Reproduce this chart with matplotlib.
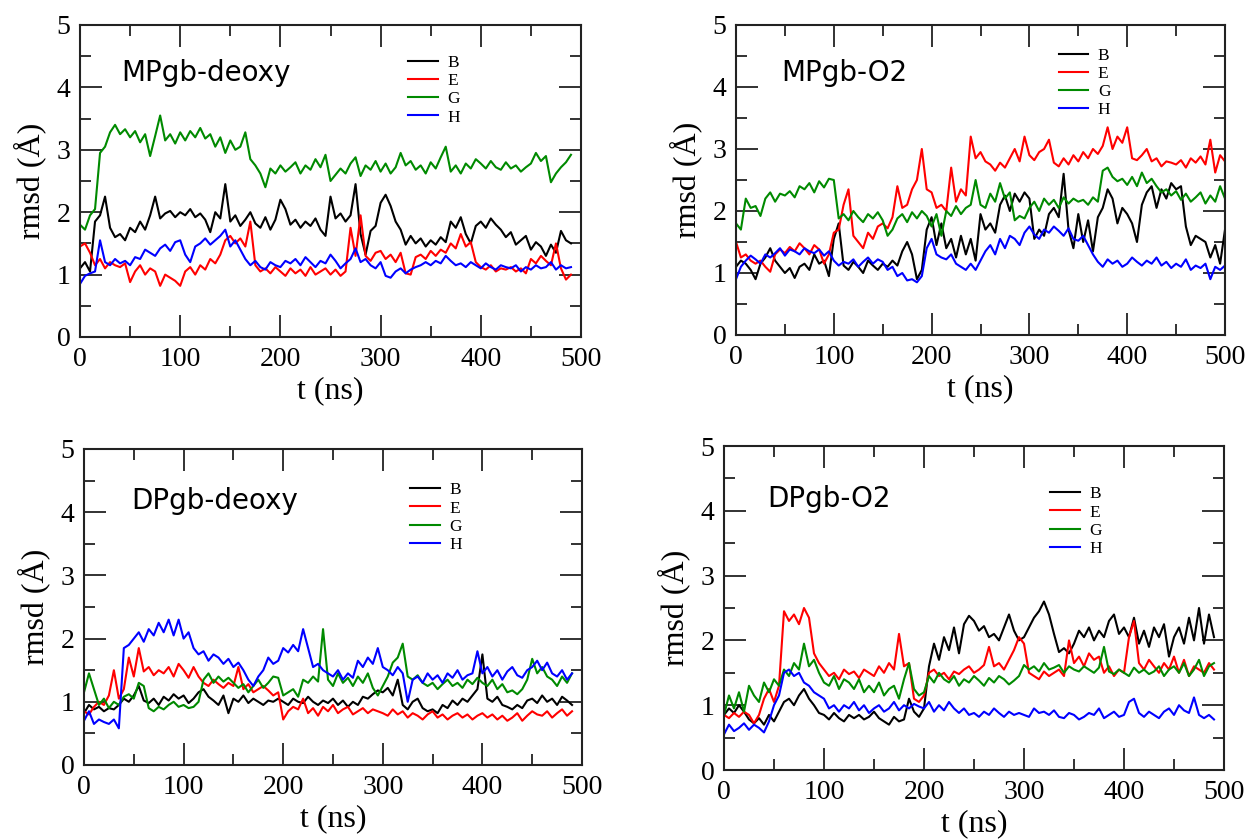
import numpy as np
import matplotlib
matplotlib.use("Agg")
import matplotlib.pyplot as plt
from matplotlib.ticker import MultipleLocator

# ---------------- data (rmsd in Angstrom, sampled every 5 ns) ----------------
step_ns = 5
labels = ["B", "E", "G", "H"]
titles = ["MPgb-deoxy", "MPgb-O2", "DPgb-deoxy", "DPgb-O2"]

# Panel 1: MPgb-deoxy
p1_B = [1.10, 1.20, 1.05, 1.85, 1.95, 2.25, 1.75, 1.60, 1.65, 1.55,
        1.75, 1.68, 1.85, 1.72, 1.95, 2.25, 1.90, 1.98, 2.02, 1.92,
        2.00, 1.95, 2.05, 1.92, 1.98, 1.88, 1.68, 2.00, 1.90, 2.45,
        1.85, 1.95, 1.78, 1.88, 2.00, 1.82, 1.75, 1.92, 1.72, 1.88,
        2.20, 2.05, 1.80, 1.88, 1.75, 1.85, 1.78, 1.90, 1.72, 1.62,
        2.25, 1.90, 1.98, 1.85, 1.95, 2.45, 1.65, 1.32, 1.70, 1.78,
        2.15, 2.28, 2.10, 1.85, 1.72, 1.48, 1.62, 1.50, 1.58, 1.45,
        1.55, 1.48, 1.60, 1.52, 1.85, 1.75, 1.92, 1.65, 1.50, 1.78,
        1.85, 1.75, 1.90, 1.80, 1.72, 1.60, 1.68, 1.48, 1.55, 1.62,
        1.40, 1.52, 1.45, 1.30, 1.48, 1.35, 1.70, 1.55, 1.50]
p1_E = [1.45, 1.50, 1.35, 1.15, 1.25, 1.10, 1.20, 1.15, 1.12, 1.18,
        0.88, 1.05, 1.15, 1.00, 1.10, 1.05, 0.82, 1.00, 0.95, 0.90,
        0.82, 1.05, 1.12, 1.00, 1.15, 1.08, 1.25, 1.18, 1.32, 1.55,
        1.62, 1.50, 1.58, 1.45, 1.85, 1.15, 1.05, 1.10, 1.02, 1.12,
        1.05, 0.98, 1.10, 1.02, 1.08, 0.98, 1.12, 1.00, 1.05, 1.10,
        1.00, 1.08, 0.98, 1.05, 1.75, 1.30, 1.95, 1.30, 1.22, 1.35,
        1.38, 1.25, 1.32, 1.20, 1.35, 1.02, 1.00, 1.28, 1.32, 1.25,
        1.38, 1.30, 1.40, 1.35, 1.50, 1.42, 1.65, 1.45, 1.52, 1.20,
        1.12, 1.08, 1.15, 1.05, 1.10, 1.08, 1.12, 1.05, 1.10, 1.02,
        1.25, 1.18, 1.30, 1.22, 1.15, 1.50, 1.10, 0.92, 1.00]
p1_G = [1.80, 1.72, 1.95, 2.05, 2.95, 3.05, 3.28, 3.40, 3.25, 3.33,
        3.20, 3.30, 3.12, 3.25, 2.90, 3.22, 3.55, 3.15, 3.25, 3.10,
        3.28, 3.15, 3.30, 3.20, 3.35, 3.18, 3.25, 3.05, 3.20, 2.95,
        3.15, 3.00, 3.05, 3.28, 2.85, 2.75, 2.62, 2.40, 2.70, 2.62,
        2.75, 2.65, 2.72, 2.80, 2.62, 2.75, 2.68, 2.85, 2.72, 2.92,
        2.50, 2.60, 2.70, 2.62, 2.78, 2.88, 2.58, 2.75, 2.68, 2.82,
        2.65, 2.78, 2.62, 2.72, 2.95, 2.75, 2.82, 2.68, 2.75, 2.62,
        2.80, 2.70, 2.88, 3.05, 2.65, 2.75, 2.62, 2.78, 2.70, 2.85,
        2.78, 2.70, 2.82, 2.72, 2.68, 2.80, 2.70, 2.75, 2.65, 2.72,
        2.78, 2.95, 2.82, 2.90, 2.48, 2.62, 2.72, 2.80, 2.92]
p1_H = [0.85, 0.98, 1.02, 1.05, 1.55, 1.20, 1.15, 1.25, 1.18, 1.22,
        1.15, 1.28, 1.25, 1.40, 1.35, 1.30, 1.42, 1.48, 1.38, 1.52,
        1.55, 1.32, 1.20, 1.45, 1.50, 1.58, 1.48, 1.55, 1.62, 1.72,
        1.45, 1.55, 1.40, 1.25, 1.15, 1.22, 1.12, 1.08, 1.20, 1.15,
        1.12, 1.22, 1.18, 1.25, 1.15, 1.28, 1.20, 1.12, 1.22, 1.18,
        1.32, 1.22, 1.10, 1.18, 1.25, 1.42, 1.20, 1.25, 1.15, 1.10,
        1.20, 0.98, 0.95, 1.05, 1.10, 1.02, 1.08, 1.12, 1.15, 1.20,
        1.15, 1.22, 1.18, 1.30, 1.22, 1.15, 1.18, 1.12, 1.20, 1.15,
        1.10, 1.18, 1.12, 1.08, 1.15, 1.12, 1.10, 1.15, 1.05, 1.12,
        1.08, 1.15, 1.10, 1.12, 1.20, 1.08, 1.15, 1.10, 1.12]

# Panel 2: MPgb-O2
p2_B = [1.10, 1.20, 1.15, 1.05, 0.90, 1.15, 1.25, 1.40, 1.20, 1.10,
        1.00, 1.08, 0.92, 1.10, 1.15, 1.05, 1.30, 1.15, 1.20, 0.95,
        1.55, 1.80, 1.12, 1.05, 1.18, 1.10, 1.00, 1.20, 1.12, 1.05,
        1.15, 1.10, 1.20, 1.12, 1.35, 1.50, 1.30, 0.90, 1.05, 1.70,
        1.90, 1.45, 1.80, 1.40, 1.55, 1.25, 1.60, 1.30, 1.55, 1.20,
        1.95, 1.70, 1.80, 1.65, 2.10, 2.25, 2.00, 2.28, 2.15, 2.30,
        2.20, 1.55, 1.70, 1.60, 1.95, 2.05, 1.90, 2.60, 1.70, 1.40,
        1.95, 1.50, 1.85, 1.35, 1.90, 2.05, 2.35, 2.20, 1.80, 2.05,
        1.95, 1.80, 1.50, 2.10, 2.30, 2.40, 2.05, 2.35, 2.20, 2.45,
        2.35, 2.40, 1.75, 1.45, 1.60, 1.55, 1.50, 1.25, 1.45, 1.15,
        1.70]
p2_E = [1.50, 1.25, 1.30, 1.20, 1.15, 1.20, 1.10, 1.02, 1.30, 1.38,
        1.32, 1.42, 1.35, 1.48, 1.40, 1.30, 1.45, 1.38, 1.15, 1.30,
        1.65, 1.70, 2.10, 2.35, 1.60, 1.50, 1.40, 1.65, 1.55, 1.75,
        1.80, 1.72, 1.90, 2.40, 2.05, 2.10, 2.35, 2.50, 3.00, 2.35,
        2.30, 2.05, 2.10, 2.00, 2.70, 2.15, 2.35, 2.25, 3.20, 2.85,
        2.95, 2.80, 2.75, 2.65, 2.78, 2.70, 2.85, 3.00, 2.80, 3.20,
        2.90, 2.82, 2.95, 3.00, 3.15, 2.78, 2.72, 2.85, 2.75, 2.90,
        2.80, 2.95, 2.85, 3.00, 2.92, 3.05, 3.35, 3.00, 3.20, 3.10,
        3.35, 2.85, 2.82, 2.90, 3.00, 2.80, 2.85, 2.72, 2.80, 2.78,
        2.75, 2.82, 2.70, 2.85, 2.78, 2.88, 2.75, 3.15, 2.62, 2.90,
        2.80]
p2_G = [1.80, 1.70, 2.20, 2.05, 2.08, 1.92, 2.20, 2.30, 2.15, 2.28,
        2.25, 2.32, 2.22, 2.40, 2.35, 2.45, 2.30, 2.48, 2.38, 2.52,
        2.50, 1.88, 1.95, 1.85, 2.00, 1.90, 1.82, 1.95, 1.88, 1.98,
        1.85, 1.60, 1.70, 1.88, 1.95, 1.82, 1.98, 1.88, 2.00, 1.92,
        1.75, 1.95, 1.60, 2.00, 1.92, 2.08, 1.95, 2.05, 2.10, 2.50,
        2.10, 2.05, 2.28, 2.15, 2.45, 2.20, 2.30, 1.85, 1.92, 1.88,
        2.05, 2.15, 2.00, 2.20, 2.10, 2.18, 2.05, 2.22, 2.12, 2.20,
        2.15, 2.18, 2.10, 2.22, 2.15, 2.65, 2.70, 2.55, 2.48, 2.52,
        2.42, 2.55, 2.40, 2.62, 2.45, 2.52, 2.40, 2.30, 2.35, 2.25,
        2.32, 2.18, 2.28, 2.15, 2.22, 2.30, 2.12, 2.25, 2.15, 2.40,
        2.20]
p2_H = [0.90, 1.10, 1.20, 1.28, 1.22, 1.15, 1.30, 1.25, 1.32, 1.40,
        1.28, 1.38, 1.35, 1.30, 1.40, 1.35, 1.32, 1.38, 1.28, 1.35,
        1.20, 1.12, 1.18, 1.15, 1.22, 1.10, 1.18, 1.25, 1.15, 1.22,
        1.18, 1.05, 1.10, 0.95, 1.00, 0.88, 0.90, 0.85, 0.95, 1.40,
        1.55, 1.30, 1.25, 1.22, 1.30, 1.15, 1.10, 1.05, 1.15, 1.05,
        1.20, 1.35, 1.45, 1.30, 1.55, 1.40, 1.60, 1.55, 1.45, 1.65,
        1.75, 1.62, 1.55, 1.70, 1.65, 1.75, 1.68, 1.60, 1.72, 1.55,
        1.52, 1.60, 1.45, 1.30, 1.18, 1.10, 1.22, 1.15, 1.20, 1.10,
        1.15, 1.25, 1.18, 1.12, 1.20, 1.15, 1.25, 1.12, 1.18, 1.08,
        1.15, 1.10, 1.22, 1.05, 1.12, 1.08, 1.15, 0.90, 1.10, 1.05,
        1.12]

# Panel 3: DPgb-deoxy
p3_B = [0.82, 0.95, 0.88, 0.92, 0.85, 0.90, 0.88, 0.95, 1.05, 1.00,
        1.10, 1.25, 1.02, 0.98, 1.05, 0.95, 1.08, 1.02, 1.12, 1.05,
        1.10, 0.98, 1.05, 1.15, 1.20, 1.08, 1.02, 0.95, 1.10, 0.82,
        1.05, 1.00, 1.10, 0.98, 1.05, 1.00, 0.95, 1.02, 1.00, 1.05,
        1.00, 0.95, 1.05, 1.00, 0.98, 1.08, 1.00, 0.95, 1.02, 0.98,
        1.05, 0.95, 1.02, 0.92, 1.00, 0.95, 1.08, 1.05, 1.12, 1.18,
        1.15, 1.22, 1.10, 1.35, 0.95, 0.88, 1.00, 1.05, 0.90, 0.85,
        0.88, 0.82, 0.95, 0.90, 1.02, 0.95, 1.05, 1.00, 1.10, 1.20,
        1.75, 1.05, 1.00, 1.08, 0.95, 0.92, 0.88, 0.95, 0.90, 1.02,
        1.05, 0.98, 1.10, 1.00, 1.05, 0.95, 1.08, 1.02, 0.95]
p3_E = [0.85, 0.80, 0.92, 1.00, 0.95, 1.10, 1.50, 1.05, 1.20, 1.70,
        1.40, 1.85, 1.48, 1.55, 1.42, 1.50, 1.45, 1.55, 1.40, 1.60,
        1.50, 1.38, 1.55, 1.40, 1.30, 1.25, 1.35, 1.28, 1.22, 1.30,
        1.25, 1.55, 1.20, 1.28, 1.15, 1.20, 1.25, 1.18, 1.10, 1.15,
        0.72, 0.85, 0.92, 0.88, 1.05, 0.82, 0.90, 0.78, 0.92, 0.85,
        0.95, 0.82, 0.88, 0.92, 0.80, 0.85, 0.90, 0.82, 0.88, 0.85,
        0.82, 0.78, 0.88, 0.80, 0.85, 0.75, 0.82, 0.78, 0.72, 0.80,
        0.85, 0.75, 0.80, 0.72, 0.78, 0.82, 0.75, 0.80, 0.72, 0.78,
        0.82, 0.75, 0.80, 0.72, 0.78, 0.70, 0.75, 0.82, 0.70, 0.78,
        0.85, 0.80, 0.78, 0.85, 0.75, 0.82, 0.88, 0.78, 0.85]
p3_G = [1.15, 1.45, 1.20, 0.95, 1.05, 0.90, 1.00, 0.95, 1.08, 1.12,
        1.05, 1.30, 1.25, 0.90, 0.85, 0.92, 0.88, 0.95, 1.00, 0.92,
        0.95, 0.90, 0.92, 1.00, 1.35, 1.45, 1.30, 1.40, 1.32, 1.38,
        1.30, 1.22, 1.28, 1.15, 1.25, 1.35, 1.22, 1.30, 1.40, 1.38,
        1.10, 1.15, 1.20, 1.08, 1.35, 1.30, 1.40, 1.32, 2.15, 1.35,
        1.25, 1.45, 1.30, 1.38, 1.25, 1.40, 1.30, 1.45, 1.22, 1.10,
        1.25, 1.40, 1.62, 1.70, 1.92, 1.40, 1.35, 1.42, 1.30, 1.25,
        1.30, 1.20, 1.28, 1.35, 1.25, 1.30, 1.22, 1.35, 1.28, 1.38,
        1.30, 1.25, 1.35, 1.20, 1.28, 1.15, 1.18, 1.12, 1.20, 1.35,
        1.68, 1.45, 1.55, 1.40, 1.35, 1.25, 1.40, 1.30, 1.45]
p3_H = [0.70, 0.85, 0.65, 0.72, 0.68, 0.65, 0.72, 0.58, 1.85, 1.90,
        2.00, 2.10, 1.95, 2.15, 2.05, 2.25, 2.10, 2.30, 2.05, 2.30,
        2.00, 2.10, 1.85, 1.75, 1.80, 1.65, 1.75, 1.70, 1.60, 1.68,
        1.55, 1.62, 1.50, 1.35, 1.25, 1.40, 1.50, 1.70, 1.60, 1.65,
        1.85, 1.78, 1.90, 1.80, 2.15, 1.85, 1.55, 1.60, 1.50, 1.45,
        1.40, 1.50, 1.35, 1.45, 1.38, 1.65, 1.55, 1.70, 1.60, 1.85,
        1.55, 1.50, 1.42, 1.55, 1.45, 1.00, 1.35, 1.40, 1.30, 1.45,
        1.35, 1.42, 1.30, 1.45, 1.38, 1.50, 1.35, 1.42, 1.45, 1.80,
        1.45, 1.55, 1.40, 1.50, 1.35, 1.48, 1.55, 1.42, 1.38, 1.50,
        1.55, 1.65, 1.50, 1.62, 1.45, 1.40, 1.50, 1.35, 1.45]

# Panel 4: DPgb-O2
p4_B = [0.85, 0.95, 0.88, 1.00, 0.90, 0.78, 0.72, 0.80, 0.70, 0.85,
        0.75, 0.90, 1.05, 1.10, 1.00, 1.15, 1.25, 1.10, 1.00, 0.88,
        0.85, 0.78, 0.88, 0.80, 0.75, 0.85, 0.80, 0.85, 0.78, 0.82,
        0.90, 0.80, 0.75, 0.70, 0.82, 0.75, 0.78, 1.10, 0.90, 0.82,
        0.95, 1.60, 1.95, 1.70, 2.05, 1.85, 2.20, 1.80, 2.25, 2.38,
        2.30, 2.15, 2.22, 2.05, 2.10, 2.00, 2.20, 2.40, 2.15, 2.00,
        2.05, 2.20, 2.35, 2.45, 2.60, 2.40, 2.10, 1.82, 1.88, 1.80,
        1.95, 2.15, 2.05, 2.20, 2.00, 2.15, 2.05, 2.30, 2.40, 2.10,
        2.20, 2.05, 2.35, 1.95, 2.15, 1.90, 2.20, 2.05, 2.25, 1.75,
        2.05, 2.20, 1.95, 2.35, 2.00, 2.50, 1.95, 2.40, 2.05]
p4_E = [0.85, 0.80, 0.88, 0.82, 0.90, 0.85, 0.72, 0.85, 1.10, 1.25,
        1.05, 1.30, 2.45, 2.30, 2.40, 2.25, 2.50, 2.35, 1.80, 1.65,
        1.55, 1.45, 1.50, 1.40, 1.55, 1.48, 1.52, 1.42, 1.55, 1.50,
        1.45, 1.60, 1.50, 1.65, 1.55, 2.10, 1.60, 1.65, 1.10, 1.05,
        1.15, 1.50, 1.55, 1.45, 1.50, 1.40, 1.52, 1.48, 1.55, 1.60,
        1.50, 1.55, 1.62, 1.90, 1.60, 1.65, 1.55, 1.70, 1.85, 2.05,
        1.95, 1.50, 1.45, 1.40, 1.52, 1.45, 1.50, 1.55, 1.45, 2.00,
        1.65, 1.75, 1.60, 1.80, 1.70, 1.75, 1.50, 1.60, 1.45, 1.55,
        1.50, 2.05, 2.30, 1.65, 1.55, 1.70, 1.60, 1.50, 1.65, 1.55,
        1.75, 1.50, 1.70, 1.45, 1.60, 1.55, 1.50, 1.65, 1.55]
p4_G = [0.85, 1.15, 0.95, 1.20, 0.90, 1.30, 1.15, 1.05, 1.35, 1.20,
        1.40, 1.30, 1.55, 1.45, 1.65, 1.55, 1.95, 1.60, 1.70, 1.50,
        1.35, 1.30, 1.45, 1.25, 1.40, 1.35, 1.25, 1.40, 1.20, 1.30,
        1.20, 1.35, 1.15, 1.25, 1.30, 1.10, 1.40, 1.65, 1.25, 1.15,
        1.20, 1.45, 1.35, 1.50, 1.40, 1.35, 1.45, 1.30, 1.40, 1.35,
        1.45, 1.38, 1.30, 1.42, 1.35, 1.45, 1.40, 1.32, 1.38, 1.45,
        1.62, 1.55, 1.60, 1.52, 1.65, 1.55, 1.58, 1.62, 1.50, 1.60,
        1.55, 1.52, 1.60, 1.55, 1.50, 1.58, 1.90, 1.52, 1.48, 1.55,
        1.50, 1.45, 1.58, 1.50, 1.55, 1.48, 1.52, 1.60, 1.45, 1.55,
        1.60, 1.50, 1.65, 1.45, 1.55, 1.70, 1.45, 1.60, 1.65]
p4_H = [0.55, 0.70, 0.60, 0.65, 0.72, 0.62, 0.70, 0.65, 0.58, 0.75,
        1.00, 1.15, 1.50, 1.55, 1.45, 1.50, 1.35, 1.30, 1.20, 1.15,
        1.10, 0.95, 1.00, 0.90, 1.00, 0.95, 1.05, 0.92, 1.00, 0.88,
        0.95, 1.00, 0.90, 0.95, 1.05, 0.92, 1.00, 0.95, 1.02, 0.98,
        0.95, 1.05, 0.90, 1.00, 0.92, 1.05, 0.95, 0.88, 0.95, 0.85,
        0.88, 0.82, 0.90, 0.85, 0.95, 0.88, 0.82, 0.90, 0.85, 0.88,
        0.85, 0.82, 0.95, 0.88, 0.90, 0.85, 0.92, 0.82, 0.80, 0.88,
        0.85, 0.78, 0.82, 0.88, 0.85, 0.95, 0.80, 0.85, 0.90, 0.82,
        0.85, 1.05, 1.10, 0.88, 0.82, 0.90, 0.85, 0.80, 0.90, 0.95,
        0.85, 1.00, 0.92, 0.88, 1.12, 0.85, 0.80, 0.85, 0.78]

x_ticks = [0, 100, 200, 300, 400, 500]
y_ticks = [0, 1, 2, 3, 4, 5]

# ---------------- styling ----------------
colors = ["#000000", "#ff0000", "#008a00", "#0000ff"]
serif = "Liberation Serif"

W, H = 1255, 840
fig = plt.figure(figsize=(W / 100, H / 100), dpi=100)


def px_axes(left, top, right, bottom):
    return fig.add_axes([left / W, 1 - bottom / H, (right - left) / W, (bottom - top) / H])


panels = [
    dict(box=(80, 25, 581, 337), series=[p1_B, p1_E, p1_G, p1_H],
         title_xy=(0.083, 0.847), leg_xy=(0.655, 0.905)),
    dict(box=(736, 25, 1225, 335), series=[p2_B, p2_E, p2_G, p2_H],
         title_xy=(0.092, 0.846), leg_xy=(0.660, 0.927)),
    dict(box=(84, 449, 582, 765), series=[p3_B, p3_E, p3_G, p3_H],
         title_xy=(0.094, 0.836), leg_xy=(0.655, 0.895)),
    dict(box=(724, 446, 1224, 770), series=[p4_B, p4_E, p4_G, p4_H],
         title_xy=(0.087, 0.837), leg_xy=(0.652, 0.876)),
]

for pi, p in enumerate(panels):
    ax = px_axes(*p["box"])
    for lab, col, vals in zip(labels, colors, p["series"]):
        t = np.arange(len(vals)) * step_ns
        ax.plot(t, vals, color=col, lw=1.5, label=lab)
    ax.set_xlim(0, 500)
    ax.set_ylim(0, 5)
    ax.set_xticks(x_ticks)
    ax.set_yticks(y_ticks)
    ax.xaxis.set_minor_locator(MultipleLocator(50))
    ax.yaxis.set_minor_locator(MultipleLocator(0.5))
    ax.tick_params(which="both", direction="in", top=True, right=True,
                   width=1.3, color="#222222")
    ax.tick_params(which="major", length=16, pad=7, labelsize=20)
    ax.tick_params(which="minor", length=8)
    for lbl in ax.get_xticklabels() + ax.get_yticklabels():
        lbl.set_fontfamily(serif)
    for s in ax.spines.values():
        s.set_linewidth(1.5)
        s.set_color("#222222")
    ax.set_xlabel("t (ns)", fontsize=23, fontfamily=serif, labelpad=3)
    ax.set_ylabel("rmsd (Å)", fontsize=23, fontfamily=serif, labelpad=7)
    ax.text(p["title_xy"][0], p["title_xy"][1], titles[pi], transform=ax.transAxes,
            fontsize=20, fontfamily="DejaVu Sans", va="center", ha="left")
    ax.legend(loc="upper left", bbox_to_anchor=p["leg_xy"], frameon=False,
              prop={"family": serif, "size": 12.5}, handlelength=1.7,
              handletextpad=0.55, labelspacing=0.12, borderpad=0, borderaxespad=0)

fig.savefig("out.png", dpi=100)
